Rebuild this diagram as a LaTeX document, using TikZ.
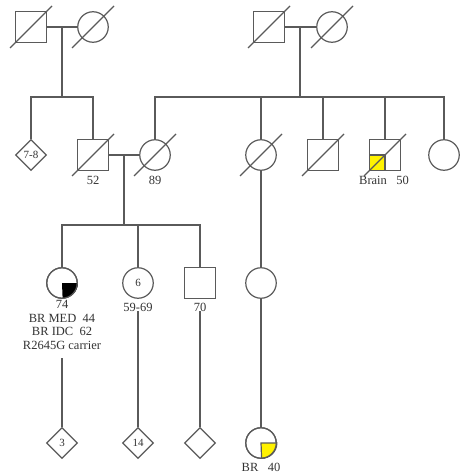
\documentclass[tikz,border=0pt]{standalone}
\usepackage{fontspec}
\setmainfont{Liberation Serif}
\usetikzlibrary{shapes.geometric,calc}
\definecolor{ln}{HTML}{5A5A5A}
\definecolor{txt}{HTML}{333333}
\definecolor{yel}{HTML}{FFF200}
\tikzset{
  sym/.style={draw=ln,line width=1.2pt,inner sep=0pt,fill=white,text=txt,font=\fontsize{11}{12}\selectfont},
  male/.style={sym,rectangle,minimum size=30.5pt},
  female/.style={sym,circle,minimum size=30.5pt},
  unk/.style={sym,diamond,minimum size=31pt},
  rel/.style={draw=ln,line width=1.2pt},
  lab/.style={text=txt,font=\fontsize{12.5}{13.5}\selectfont,align=center,inner sep=0pt}
}
\newcommand\deadmark[1]{\draw[rel] ($(#1.center)+(-21pt,-21pt)$) -- ($(#1.center)+(21pt,21pt)$);}
\begin{document}
\begin{tikzpicture}[x=1pt,y=1pt]
\useasboundingbox (0,0) rectangle (459,-476);
% generation I left
\node[male] (g1a) at (31,-27) {};
\node[female] (g1b) at (93,-27) {};
\coordinate (m1) at (62,-27);
\coordinate (s1) at (62,-97);
\coordinate (s1l) at (31,-97);
\coordinate (s1r) at (93,-97);
% generation I right
\node[male] (g1c) at (269,-27) {};
\node[female] (g1d) at (332,-27) {};
\coordinate (m2) at (300,-27);
\coordinate (s2) at (300,-97);
\coordinate (s2l) at (155,-97);
\coordinate (s2r) at (444,-97);
% generation II
\node[unk] (d78) at (31,-155) {7-8};
\node[male] (f52) at (93,-155) {};
\node[female] (m89) at (155,-155) {};
\node[female] (c261) at (261,-155) {};
\node[male] (s323) at (323,-155) {};
\node[male] (s385) at (385,-155) {};
\node[female] (c444) at (444,-155) {};
\coordinate (m3) at (124,-155);
\coordinate (s3) at (124,-225);
\coordinate (s3l) at (62,-225);
\coordinate (s3r) at (200,-225);
% generation III
\node[female] (p74) at (62,-283) {};
\node[female] (c6) at (138,-283) {6};
\node[male] (q70) at (200,-283) {};
\node[female] (c283) at (261,-283) {};
% generation IV
\node[unk] (d3) at (62,-443) {3};
\node[unk] (d14) at (138,-443) {14};
\node[unk] (d0) at (200,-443) {};
\node[female] (br40) at (261,-443) {};
% connectors
\draw[rel] (g1a) -- (g1b);
\draw[rel] (m1) -- (s1);
\draw[rel] (d78) -- (s1l) -- (s1r) -- (f52);
\draw[rel] (g1c) -- (g1d);
\draw[rel] (m2) -- (s2);
\draw[rel] (m89) -- (s2l) -- (s2r) -- (c444);
\draw[rel] (c261) -- (c261 |- s2l);
\draw[rel] (s323) -- (s323 |- s2l);
\draw[rel] (s385) -- (s385 |- s2l);
\draw[rel] (f52) -- (m89);
\draw[rel] (m3) -- (s3);
\draw[rel] (p74) -- (s3l) -- (s3r) -- (q70);
\draw[rel] (c6) -- (c6 |- s3);
\draw[rel] (c261) -- (c283);
\draw[rel] (c283) -- (br40);
% fills
\fill[black] (p74.center) -- (p74.east) arc[start angle=0,end angle=-90,radius=15.25] -- cycle;
\draw[draw=ln,line width=1.2pt] (p74) circle[radius=15.25];
\draw[draw=ln,line width=1.2pt,fill=yel] (br40.center) -- (br40.east) arc[start angle=0,end angle=-90,radius=15.25] -- cycle;
\draw[draw=ln,line width=1.2pt] (br40.center) circle[radius=15.25];
\draw[draw=ln,line width=1.2pt,fill=yel] (s385.center) rectangle (s385.south west);
% deceased marks
\deadmark{g1a}\deadmark{g1b}\deadmark{g1c}\deadmark{g1d}
\deadmark{f52}\deadmark{m89}\deadmark{c261}\deadmark{s323}\deadmark{s385}
% labels
\node[lab] (l52) at (93,-180) {52};
\node[lab] (l89) at (155,-180) {89};
\node[lab] (lbrain) at (384,-180) {Brain\ \ \ 50};
\node[lab,anchor=north] (l74) at (62,-300.5) {74\\BR MED\ \ 44\\BR IDC\ \ 62\\R2645G carrier};
\node[lab] (l5969) at (138,-307) {59-69};
\node[lab] (l70) at (200,-307) {70};
\node[lab] (lbr40) at (261,-467) {BR\ \ \ 40};
% lines from labels to generation IV
\draw[rel] (d3) -- (d3 |- 0,-358);
\draw[rel] (d14) -- (l5969);
\draw[rel] (d0) -- (l70);
\end{tikzpicture}
\end{document}
